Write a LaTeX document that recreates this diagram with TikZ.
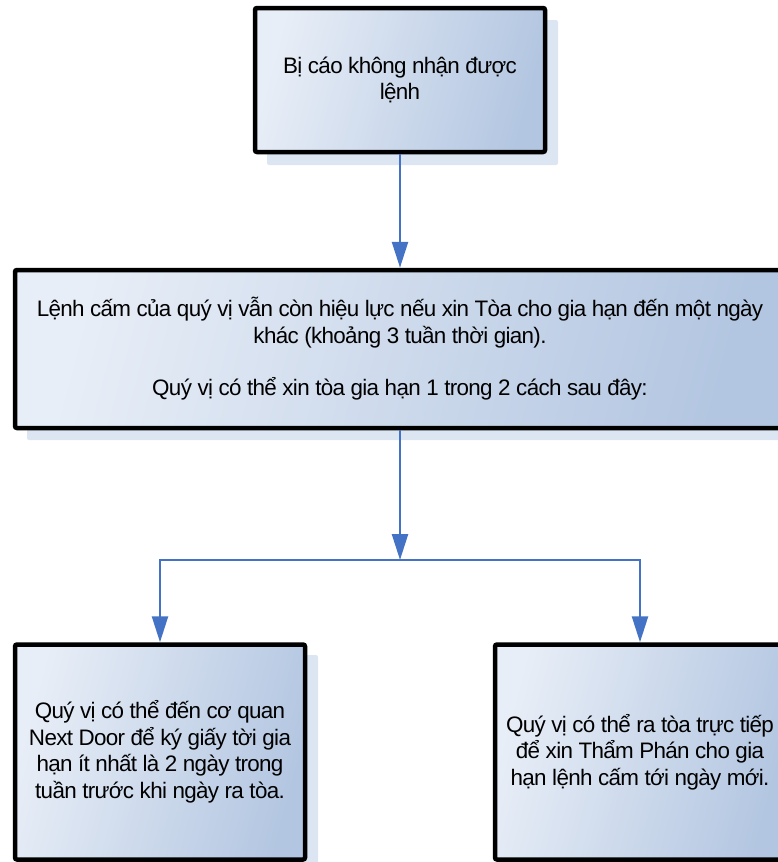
\documentclass[tikz,border=0pt]{standalone}
\usepackage{fontspec}
\setmainfont{Liberation Sans}
\usetikzlibrary{arrows.meta}
\definecolor{lite}{HTML}{E8EEF7}
\definecolor{dark}{HTML}{B3C6E1}
\definecolor{shad}{HTML}{DCE6F2}
\definecolor{arrc}{HTML}{4472C4}
\tikzset{
  box/.style={draw=black, line width=4.5pt, rounded corners=2pt,
    left color=lite, right color=dark, shading angle=75,
    inner sep=0pt, align=center,
    font=\fontsize{22.4pt}{26.5pt}\selectfont\addfontfeature{LetterSpace=-3}},
  shadowbox/.style={fill=shad, rounded corners=2pt},
  arr/.style={draw=arrc, line width=2.5pt,
    -{Triangle[length=26pt,width=16pt,fill=arrc]}}
}
\begin{document}
\begin{tikzpicture}[x=1pt,y=-1pt]
\useasboundingbox (0,0) rectangle (778,862);
\clip (0,0) rectangle (778,862);
% shadows
\fill[shadowbox] (267,20) rectangle (558,165);
\fill[shadowbox] (27,282) rectangle (800,440);
\fill[shadowbox] (27,655) rectangle (318,872);
\fill[shadowbox] (507,655) rectangle (800,872);
% boxes
\node[box, minimum width=290pt, minimum height=144pt] (top) at (400,80)
  {Bị cáo không nhận được\\lệnh};
\node[box, minimum width=770pt, minimum height=158pt] (mid) at (400,349)
  {Lệnh cấm của quý vị vẫn còn hiệu lực nếu xin Tòa cho gia hạn đến một ngày\\
   khác (khoảng 3 tuần thời gian).\\[26pt]
   Quý vị có thể xin tòa gia hạn 1 trong 2 cách sau đây:};
\node[box, minimum width=290pt, minimum height=215pt] (left) at (160,752)
  {Quý vị có thể đến cơ quan\\Next Door để ký giấy tời gia\\hạn ít nhất là 2 ngày trong\\tuần trước khi ngày ra tòa.};
\node[box, minimum width=290pt, minimum height=215pt] (right) at (640,752)
  {Quý vị có thể ra tòa trực tiếp\\để xin Thẩm Phán cho gia\\hạn lệnh cấm tới ngày mới.};
% connectors
\coordinate (j) at (400,560);
\draw[arr] (top.south) -- (mid.north);
\draw[arr] (mid.south) -- (j);
\draw[arr] (j) -| (left.north);
\draw[arr] (j) -| (right.north);
\end{tikzpicture}
\end{document}
